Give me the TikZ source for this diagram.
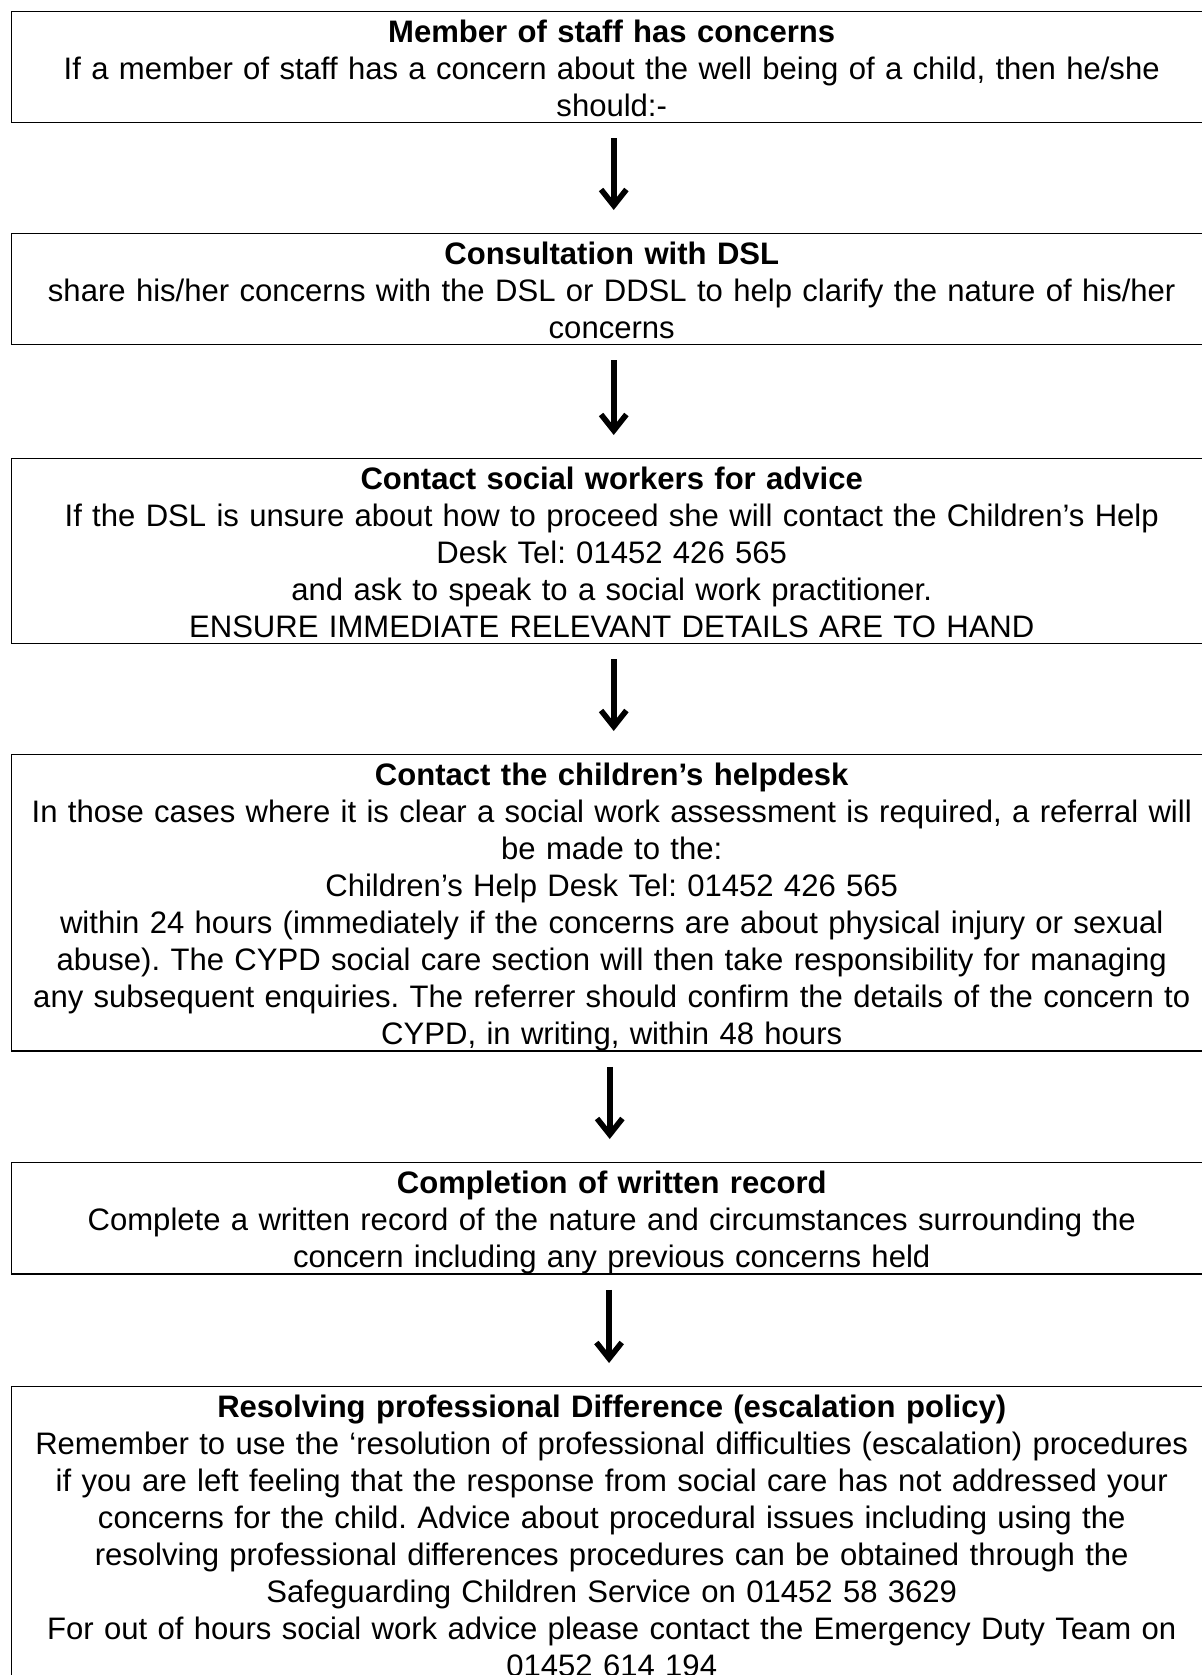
\documentclass[tikz,border=0pt]{standalone}
\usepackage{fontspec}
\setmainfont{Liberation Sans}
\usetikzlibrary{arrows.meta}
\frenchspacing
\lineskiplimit=-100pt
\lineskip=0pt
\newcommand\topst{\rule{0pt}{23.25pt}}
\newcommand\botst{\rule[-4.5pt]{0pt}{0pt}}
\tikzset{
  flowbox/.style={draw, line width=1.1pt, rectangle, anchor=north west,
    minimum width=900pt, text width=898pt, align=center,
    inner xsep=1pt, inner ysep=0pt,
    font=\fontsize{23.3}{27.75}\selectfont},
  flowarr/.style={line width=4.2pt,
    -{Straight Barb[length=12pt,width=19pt,line width=4.2pt]},
    shorten <=11.25pt, shorten >=17.25pt}
}
\begin{document}
\begin{tikzpicture}[x=0.75pt,y=-0.75pt]
\useasboundingbox (0,0) rectangle (1202,1675);
\clip (0,0) rectangle (1202,1675);
\node[flowbox] (b1) at (11,11) {\topst\textbf{Member of staff has concerns}\\
If a member of staff has a concern about the well being of a child, then he/she\\
should:-\botst};
\node[flowbox] (b2) at (11,233) {\topst\textbf{Consultation with DSL}\\
share his/her concerns with the DSL or DDSL to help clarify the nature of his/her\\
concerns\botst};
\node[flowbox] (b3) at (11,458) {\topst\textbf{Contact social workers for advice}\\
If the DSL is unsure about how to proceed she will contact the Children’s Help\\
Desk Tel: 01452 426 565\\
and ask to speak to a social work practitioner.\\
ENSURE IMMEDIATE RELEVANT DETAILS ARE TO HAND\botst};
\node[flowbox] (b4) at (11,754) {\topst\textbf{Contact the children’s helpdesk}\\
In those cases where it is clear a social work assessment is required, a referral will\\
be made to the:\\
Children’s Help Desk Tel: 01452 426 565\\
within 24 hours (immediately if the concerns are about physical injury or sexual\\
abuse). The CYPD social care section will then take responsibility for managing\\
any subsequent enquiries. The referrer should confirm the details of the concern to\\
CYPD, in writing, within 48 hours\botst};
\node[flowbox] (b5) at (11,1162) {\topst\textbf{Completion of written record}\\
Complete a written record of the nature and circumstances surrounding the\\
concern including any previous concerns held\botst};
\node[flowbox] (b6) at (11,1386) {\topst\textbf{Resolving professional Difference (escalation policy)}\\
Remember to use the ‘resolution of professional difficulties (escalation) procedures\\
if you are left feeling that the response from social care has not addressed your\\
concerns for the child. Advice about procedural issues including using the\\
resolving professional differences procedures can be obtained through the\\
Safeguarding Children Service on 01452 58 3629\\
For out of hours social work advice please contact the Emergency Duty Team on\\
01452 614 194\botst};
\draw[flowarr] ([xshift=1.5pt]b1.south) -- ([xshift=1.5pt]b2.north);
\draw[flowarr] ([xshift=1.5pt]b2.south) -- ([xshift=1.5pt]b3.north);
\draw[flowarr] ([xshift=1.5pt]b3.south) -- ([xshift=1.5pt]b4.north);
\draw[flowarr] ([xshift=-1.5pt]b4.south) -- ([xshift=-1.5pt]b5.north);
\draw[flowarr] ([xshift=-2pt]b5.south) -- ([xshift=-2pt]b6.north);
\end{tikzpicture}
\end{document}
